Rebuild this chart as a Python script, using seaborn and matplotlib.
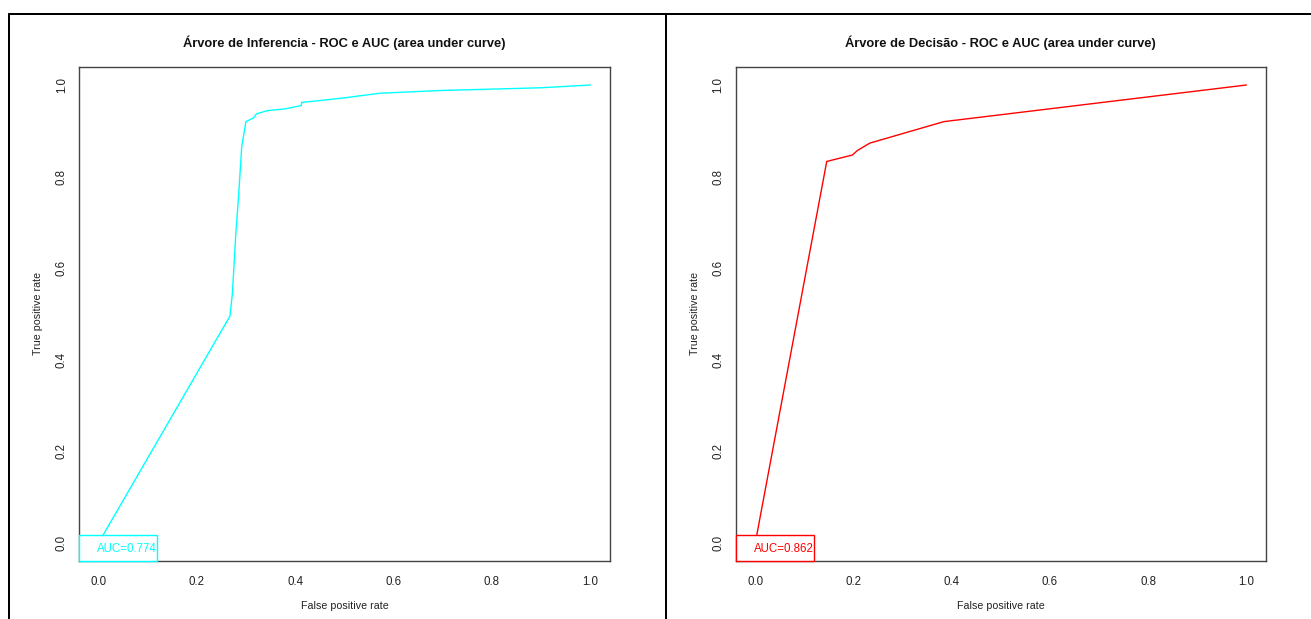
import numpy as np
import pandas as pd
import matplotlib
matplotlib.use("Agg")
import matplotlib.pyplot as plt
from matplotlib.lines import Line2D
from matplotlib.patches import Rectangle
import seaborn as sns

# ROC curve of the conditional inference tree
ctree_fpr = [0.0, 0.267, 0.272, 0.279, 0.285, 0.291, 0.2995, 0.315, 0.321, 0.343,
             0.38, 0.412, 0.413, 0.45, 0.50, 0.572, 0.694, 0.80, 0.90, 1.0]
ctree_tpr = [0.0, 0.495, 0.545, 0.676, 0.764, 0.866, 0.920, 0.928, 0.937, 0.944,
             0.948, 0.955, 0.962, 0.966, 0.972, 0.982, 0.988, 0.991, 0.994, 1.0]
ctree_auc = 0.774

# ROC curve of the decision tree
rpart_fpr = [0.0, 0.1454, 0.1976, 0.208, 0.233, 0.384, 1.0]
rpart_tpr = [0.0, 0.833, 0.847, 0.857, 0.873, 0.920, 1.0]
rpart_auc = 0.862

titles = ["Árvore de Inferencia - ROC e AUC (area under curve)",
          "Árvore de Decisão - ROC e AUC (area under curve)"]
ticks = [0.0, 0.2, 0.4, 0.6, 0.8, 1.0]
tick_labels = ["0.0", "0.2", "0.4", "0.6", "0.8", "1.0"]

sns.set_style("white")
plt.rcParams["font.family"] = ["Liberation Sans", "DejaVu Sans"]

W, H = 1311, 619
fig = plt.figure(figsize=(W / 100, H / 100), dpi=100)

panels = [
    (ctree_fpr, ctree_tpr, ctree_auc, "#00FFFF", titles[0], 79, 610),
    (rpart_fpr, rpart_tpr, rpart_auc, "#FF0000", titles[1], 735.7, 1266),
]
ax_top, ax_bot = 66.7, 561

for fpr, tpr, auc, color, title, x0, x1 in panels:
    ax = fig.add_axes([x0 / W, (H - ax_bot) / H, (x1 - x0) / W, (ax_bot - ax_top) / H])
    df = pd.DataFrame({"fpr": fpr, "tpr": tpr})
    sns.lineplot(data=df, x="fpr", y="tpr", ax=ax, color=color, lw=1.0,
                 sort=False, estimator=None)
    ax.set_xlim(-0.04, 1.04)
    ax.set_ylim(-0.04, 1.04)
    ax.set_xticks(ticks)
    ax.set_xticklabels(tick_labels)
    ax.set_yticks(ticks)
    ax.set_yticklabels(tick_labels, rotation=90, va="center")
    ax.tick_params(axis="both", direction="out", length=4, width=0.9,
                   colors="#222222", labelsize=8.3, labelcolor="#222222")
    ax.tick_params(axis="x", pad=7)
    ax.tick_params(axis="y", pad=4)
    for sp in ax.spines.values():
        sp.set_color("#444444")
        sp.set_linewidth(1.0)
        sp.set_visible(True)
    ax.set_xlabel("False positive rate", fontsize=7.7, labelpad=9, color="#222222")
    ax.set_ylabel("True positive rate", fontsize=7.7, labelpad=9, color="#222222")
    ax.set_title(title, fontsize=9.3, fontweight="bold", pad=14, color="#111111")

    # AUC legend box in the lower-left corner
    bw = 78.5 / (x1 - x0)
    bh = 26 / (ax_bot - ax_top)
    ax.add_patch(Rectangle((0, 0), bw, bh, transform=ax.transAxes, facecolor="white",
                           edgecolor=color, lw=1.0, zorder=5, clip_on=False))
    ax.text(18 / (x1 - x0), bh / 2 - 0.002, f"AUC={auc:.3f}", transform=ax.transAxes,
            color=color, fontsize=8.3, ha="left", va="center", zorder=6)

# Frame lines of the side-by-side layout
lw_frame = 2.0 * 72 / 100
fig.add_artist(Line2D([9 / W, 1.0], [(H - 14) / H] * 2, color="black", lw=lw_frame))
fig.add_artist(Line2D([9 / W] * 2, [0, (H - 14) / H], color="black", lw=lw_frame))
fig.add_artist(Line2D([666 / W] * 2, [0, (H - 14) / H], color="black", lw=lw_frame))

fig.savefig("out.png", dpi=100)
